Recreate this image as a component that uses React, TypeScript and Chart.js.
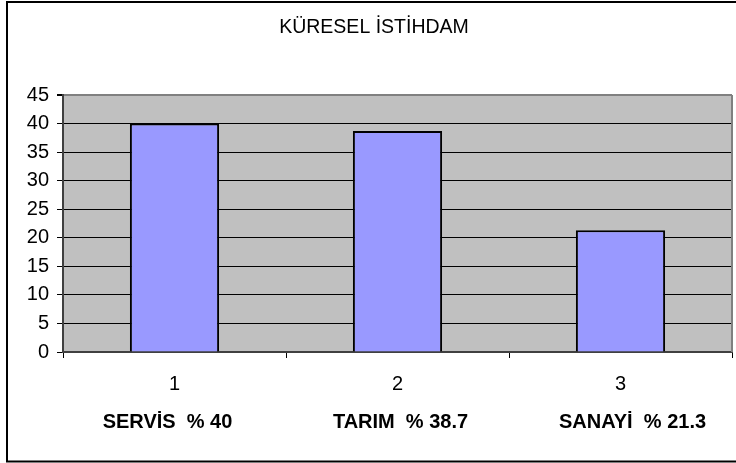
import React, { useEffect, useRef } from "react";
import { Chart, registerables } from "chart.js";

Chart.register(...registerables);

const TITLE = "KÜRESEL İSTİHDAM";
const CATEGORIES = ["1", "2", "3"];
const CATEGORY_NAMES = ["SERVİS  % 40", "TARIM  % 38.7", "SANAYİ  % 21.3"];
const VALUES = [40, 38.7, 21.3];
const Y_MIN = 0;
const Y_MAX = 45;
const Y_STEP = 5;

const FONT = "'Liberation Sans', Arial, sans-serif";
const NAME_OFFSETS = [-7, 3, 12];

const decorPlugin = {
  id: "decor",
  beforeDraw(chart: any) {
    const { ctx, chartArea: a, width, height } = chart;
    ctx.save();
    ctx.fillStyle = "#ffffff";
    ctx.fillRect(0, 0, width, height);
    ctx.fillStyle = "#c0c0c0";
    ctx.fillRect(a.left, a.top, a.right - a.left, a.bottom - a.top);
    ctx.restore();
  },
  beforeDatasetsDraw(chart: any) {
    const { ctx, chartArea: a } = chart;
    ctx.save();
    ctx.strokeStyle = "#808080";
    ctx.lineWidth = 2;
    ctx.beginPath();
    ctx.moveTo(a.right, a.top);
    ctx.lineTo(a.right, a.bottom);
    ctx.stroke();
    ctx.restore();
  },
  afterDraw(chart: any) {
    const { ctx } = chart;
    const xs = chart.scales.x;
    ctx.save();
    ctx.fillStyle = "#000";
    ctx.font = `19.5px ${FONT}`;
    ctx.textAlign = "center";
    ctx.textBaseline = "alphabetic";
    ctx.fillText(TITLE, 374, 33);
    ctx.font = `bold 20px ${FONT}`;
    CATEGORY_NAMES.forEach((name, i) => {
      ctx.fillText(name, xs.getPixelForValue(i) + NAME_OFFSETS[i], 428);
    });
    ctx.strokeStyle = "#000";
    ctx.lineWidth = 2;
    ctx.strokeRect(7, 2, 760, 459.5);
    ctx.restore();
  },
};

export default function App() {
  const ref = useRef<HTMLCanvasElement | null>(null);
  useEffect(() => {
    if (!ref.current) return;
    const chart = new Chart(ref.current, {
      type: "bar",
      data: {
        labels: CATEGORIES,
        datasets: [
          {
            data: VALUES,
            backgroundColor: "#9999ff",
            borderColor: "#000000",
            borderWidth: 2,
            barPercentage: 0.4,
            categoryPercentage: 1,
          },
        ],
      },
      options: {
        responsive: false,
        animation: false,
        layout: { padding: { top: 95, left: 0, right: 4, bottom: 0 } },
        plugins: {
          legend: { display: false },
          title: { display: false },
          tooltip: { enabled: false },
        },
        scales: {
          x: {
            afterFit: (s: any) => {
              s.height = 111;
            },
            grid: {
              display: true,
              drawOnChartArea: false,
              drawTicks: true,
              tickLength: 6,
              color: "#000",
              lineWidth: 1,
            },
            border: { display: true, color: "#404040", width: 2 },
            ticks: {
              color: "#000",
              font: { family: FONT, size: 20 },
              padding: 14,
            },
          },
          y: {
            min: Y_MIN,
            max: Y_MAX,
            afterFit: (s: any) => {
              s.width = 63;
            },
            grid: {
              color: (c: any) => (c.tick && c.tick.value === Y_MAX ? "#808080" : "#000"),
              lineWidth: (c: any) => (c.tick && c.tick.value === Y_MAX ? 2 : 1),
              drawTicks: true,
              tickLength: 6,
              tickColor: "#000",
            },
            border: { display: true, color: "#404040", width: 2 },
            ticks: {
              stepSize: Y_STEP,
              color: "#000",
              font: { family: FONT, size: 20 },
              padding: 8,
            },
          },
        },
      },
      plugins: [decorPlugin],
    });
    return () => chart.destroy();
  }, []);
  return (
    <div style={{ position: "absolute", left: 0, top: 0, width: 736, height: 463 }}>
      <canvas ref={ref} width={736} height={463} />
    </div>
  );
}
